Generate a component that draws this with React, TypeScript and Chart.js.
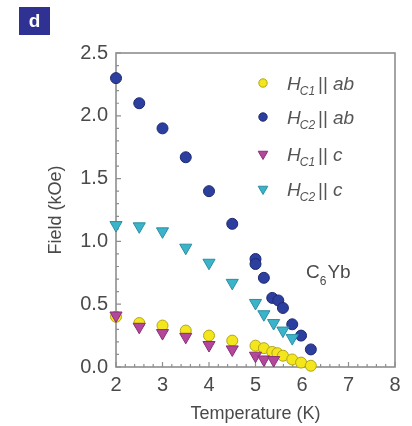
import React, { useEffect, useRef } from "react";
import { Chart, registerables } from "chart.js";

Chart.register(...registerables);

// Critical fields of C6Yb versus temperature
const hc1AbT = [2, 2.5, 3, 3.5, 4, 4.5, 5, 5.18, 5.36, 5.47, 5.59, 5.79, 5.98, 6.19];
const hc1AbH = [0.4, 0.35, 0.33, 0.29, 0.25, 0.21, 0.17, 0.15, 0.12, 0.11, 0.09, 0.06, 0.035, 0.01];

const hc2AbT = [2, 2.5, 3, 3.5, 4, 4.5, 5, 5, 5.18, 5.36, 5.49, 5.59, 5.79, 5.98, 6.19];
const hc2AbH = [2.3, 2.1, 1.9, 1.67, 1.4, 1.14, 0.86, 0.82, 0.71, 0.55, 0.53, 0.47, 0.34, 0.25, 0.14];

const hc1CT = [2, 2.5, 3, 3.5, 4, 4.5, 5, 5.18, 5.39];
const hc1CH = [0.41, 0.32, 0.27, 0.24, 0.175, 0.14, 0.09, 0.06, 0.055];

const hc2CT = [2, 2.5, 3, 3.5, 4, 4.5, 5, 5.18, 5.39, 5.59, 5.79];
const hc2CH = [1.13, 1.12, 1.08, 0.95, 0.83, 0.67, 0.51, 0.42, 0.35, 0.29, 0.23];

// Legend pieces: field symbol subscript and direction
const legendSubs = ["C1", "C2", "C1", "C2"];
const legendDirs = ["ab", "ab", "c", "c"];

const xTitle = "Temperature (K)";
const yTitle = "Field (kOe)";
const panelLetter = "d";

const FONT = "'Liberation Sans', Arial, sans-serif";
const TEXT = "#4a4a4a";
const AXIS = "#8e8e8e";

const toPoints = (t: number[], h: number[]) => t.map((x, i) => ({ x, y: h[i] }));

const circle = (fill: string, border: string) => ({
  pointStyle: "circle" as const,
  pointRadius: 5.5,
  pointBackgroundColor: fill,
  pointBorderColor: border,
  pointBorderWidth: 1,
  showLine: false,
  clip: false as const,
});

const triangle = (fill: string, border: string) => ({
  pointStyle: "triangle" as const,
  pointRotation: 180,
  pointRadius: 7,
  pointBackgroundColor: fill,
  pointBorderColor: border,
  pointBorderWidth: 1,
  showLine: false,
  clip: false as const,
});

const styles = [
  circle("#f3e61c", "#b3a512"),
  circle("#2d3f9e", "#1d2a72"),
  triangle("#b2479c", "#8a2f78"),
  triangle("#3bb4ca", "#2a8ea2"),
];

const decorations = {
  id: "decorations",
  beforeDatasetsDraw(chart: any) {
    const { ctx, chartArea: a, scales } = chart;
    const xs = scales.x;
    const ys = scales.y;
    ctx.save();
    ctx.strokeStyle = AXIS;
    ctx.lineWidth = 1.6;
    ctx.strokeRect(a.left, a.top, a.right - a.left, a.bottom - a.top);
    ctx.lineWidth = 1.2;
    ctx.beginPath();
    // inward ticks on the left axis: minor every 0.1, major every 0.5
    for (let i = 0; i <= 25; i++) {
      const y = ys.getPixelForValue(i / 10);
      const len = i % 5 === 0 ? 5 : 3;
      ctx.moveTo(a.left, y);
      ctx.lineTo(a.left + len, y);
    }
    // inward ticks on the bottom axis: minor every 0.2, major every 1
    for (let i = 0; i <= 30; i++) {
      const x = xs.getPixelForValue(2 + i / 5);
      const len = i % 5 === 0 ? 5 : 3;
      ctx.moveTo(x, a.bottom);
      ctx.lineTo(x, a.bottom - len);
    }
    ctx.stroke();
    ctx.restore();
  },
  afterDraw(chart: any) {
    const { ctx } = chart;
    ctx.save();

    // legend
    const lx = 263;
    const rows = [83, 117, 154, 189];
    rows.forEach((ry, i) => {
      const s: any = styles[i];
      ctx.fillStyle = s.pointBackgroundColor;
      ctx.strokeStyle = s.pointBorderColor;
      ctx.lineWidth = 1;
      ctx.beginPath();
      if (s.pointStyle === "circle") {
        ctx.arc(lx, ry, 4.2, 0, Math.PI * 2);
      } else {
        const r = 5.5;
        ctx.moveTo(lx - r * 0.87, ry - r * 0.5);
        ctx.lineTo(lx + r * 0.87, ry - r * 0.5);
        ctx.lineTo(lx, ry + r);
        ctx.closePath();
      }
      ctx.fill();
      ctx.stroke();

      const base = ry + 7;
      let x = 287;
      ctx.fillStyle = "#555";
      ctx.textBaseline = "alphabetic";
      ctx.textAlign = "left";
      ctx.font = `italic 19px ${FONT}`;
      ctx.fillText("H", x, base);
      x += ctx.measureText("H").width - 1;
      ctx.font = `italic 12px ${FONT}`;
      ctx.fillText(legendSubs[i], x, base + 5);
      x += ctx.measureText(legendSubs[i]).width + 3;
      ctx.font = `19px ${FONT}`;
      ctx.fillText("||", x, base);
      x += ctx.measureText("||").width + 5;
      ctx.font = `italic 19px ${FONT}`;
      ctx.fillText(legendDirs[i], x, base);
    });

    // compound label
    ctx.fillStyle = TEXT;
    ctx.font = `19px ${FONT}`;
    let cx = 306;
    ctx.fillText("C", cx, 278);
    cx += ctx.measureText("C").width;
    ctx.font = `12px ${FONT}`;
    ctx.fillText("6", cx, 285);
    cx += ctx.measureText("6").width + 1;
    ctx.font = `19px ${FONT}`;
    ctx.fillText("Yb", cx, 278);

    // panel letter
    ctx.fillStyle = "#2f3293";
    ctx.fillRect(19, 7, 31, 28);
    ctx.fillStyle = "#ffffff";
    ctx.font = `bold 19px ${FONT}`;
    ctx.textAlign = "center";
    ctx.textBaseline = "middle";
    ctx.fillText(panelLetter, 34.5, 21.5);

    ctx.restore();
  },
};

export default function App() {
  const ref = useRef<HTMLCanvasElement>(null);

  useEffect(() => {
    if (!ref.current) return;
    const chart = new Chart(ref.current, {
      type: "scatter",
      data: {
        datasets: [
          { label: "HC1 || ab", data: toPoints(hc1AbT, hc1AbH), order: 3, ...styles[0] },
          { label: "HC2 || ab", data: toPoints(hc2AbT, hc2AbH), order: 2, ...styles[1] },
          { label: "HC1 || c", data: toPoints(hc1CT, hc1CH), order: 0, ...styles[2] },
          { label: "HC2 || c", data: toPoints(hc2CT, hc2CH), order: 1, ...styles[3] },
        ] as any,
      },
      options: {
        animation: false,
        responsive: false,
        devicePixelRatio: 1,
        layout: { padding: { left: 0, right: 17, top: 53, bottom: 0 } },
        plugins: {
          legend: { display: false },
          tooltip: { enabled: false },
        },
        scales: {
          x: {
            type: "linear",
            min: 2,
            max: 8,
            grid: { display: false, drawTicks: false },
            border: { display: false },
            ticks: {
              stepSize: 1,
              padding: 6,
              color: TEXT,
              font: { family: FONT, size: 20 },
              maxRotation: 0,
            },
            title: {
              display: true,
              text: xTitle,
              color: TEXT,
              font: { family: FONT, size: 18 },
              padding: { top: 0, bottom: 1 },
            },
            afterFit: (s: any) => {
              s.height = 59;
            },
          },
          y: {
            type: "linear",
            min: 0,
            max: 2.5,
            grid: { display: false, drawTicks: false },
            border: { display: false },
            ticks: {
              stepSize: 0.5,
              padding: 8,
              color: TEXT,
              font: { family: FONT, size: 20 },
              callback: (v: any) => Number(v).toFixed(1),
            },
            title: {
              display: true,
              text: yTitle,
              color: TEXT,
              font: { family: FONT, size: 18 },
              padding: { top: 45, bottom: 0 },
            },
            afterFit: (s: any) => {
              s.width = 116;
            },
          },
        },
      },
      plugins: [decorations],
    });
    return () => chart.destroy();
  }, []);

  return (
    <div style={{ position: "fixed", left: 0, top: 0, width: 412, height: 426, background: "#fff" }}>
      <canvas ref={ref} width={412} height={426} style={{ width: 412, height: 426 }} />
    </div>
  );
}
